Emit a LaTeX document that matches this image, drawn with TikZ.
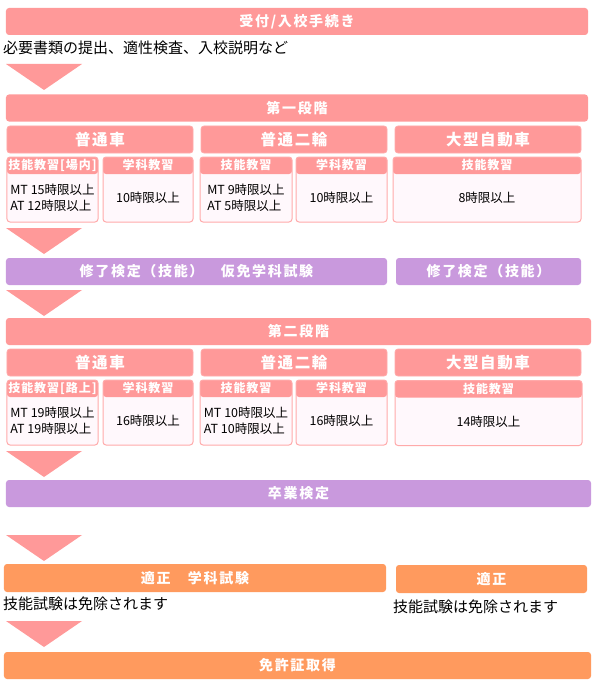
\documentclass[tikz,border=0pt]{standalone}
\usepackage{fontspec}
\setmainfont{Noto Sans CJK JP}

\definecolor{barpink}{HTML}{FF9999}
\definecolor{barpurple}{HTML}{C999DD}
\definecolor{barorange}{HTML}{FF9A5E}
\definecolor{boxline}{HTML}{FFAAAA}
\definecolor{boxfill}{HTML}{FFF8FC}

\begin{document}
\begin{tikzpicture}[x=1bp, y=-1bp,
    bar/.style={fill=barpink, rounded corners=3bp, minimum height=27bp,
                inner sep=0pt, text=white,
                font=\fontsize{14bp}{16bp}\selectfont\bfseries\addfontfeatures{LetterSpace=12}},
    purplebar/.style={bar, fill=barpurple},
    orangebar/.style={bar, fill=barorange, minimum height=28bp},
    kind/.style={bar, draw=boxline, line width=0.8bp,
                 font=\fontsize{15.5bp}{17bp}\selectfont\bfseries\addfontfeatures{LetterSpace=10}},
    lesson/.style={draw=boxline, fill=boxfill, line width=1bp,
                   rounded corners=3bp, minimum height=65bp, inner sep=0pt,
                   path picture={\fill[barpink] (path picture bounding box.north west)
                     rectangle ([yshift=-17bp]path picture bounding box.north east);}},
    lessonhead/.style={inner sep=0pt, text=white,
                       font=\fontsize{12bp}{14bp}\selectfont\bfseries\addfontfeatures{LetterSpace=8}},
    hours/.style={inner sep=0pt, align=left, font=\fontsize{12.5bp}{16bp}\selectfont},
    note/.style={inner sep=0pt, anchor=west, font=\fontsize{15bp}{17bp}\selectfont},
]
    \useasboundingbox (0,0) rectangle (597,682);

    \node[bar, minimum width=582bp] (intake) at (297,21.5) {受付/入校手続き};
    \node[note] (intakenote) at (3,48) {必要書類の提出、適性検査、入校説明など};

    \foreach \ty in {64,228,290,451,535,621}
        \fill[barpink] (6,\ty) -- (82,\ty) -- (44,\ty+26) -- cycle;

    \node[bar, minimum width=582bp] (stageone) at (297,108) {第一段階};
    \node[kind, minimum width=186bp] (carone) at (100,139.5) {普通車};
    \node[kind, minimum width=186bp] (bikeone) at (294,139.5) {普通二輪};
    \node[kind, minimum width=186bp] (largeone) at (488,139.5) {大型自動車};

    \node[lesson, minimum width=91bp] (carskillone) at (52.5,189.5) {};
    \node[lessonhead] at ([yshift=-8.5bp]carskillone.north) {技能教習[場内]};
    \node[hours] at ([yshift=-8.5bp]carskillone.center) {MT 15時限以上\\AT 12時限以上};
    \node[lesson, minimum width=90bp] (carstudyone) at (148,189.5) {};
    \node[lessonhead] at ([yshift=-8.5bp]carstudyone.north) {学科教習};
    \node[hours] at ([yshift=-8.5bp]carstudyone.center) {10時限以上};
    \node[lesson, minimum width=92bp] (bikeskillone) at (246,189.5) {};
    \node[lessonhead] at ([yshift=-8.5bp]bikeskillone.north) {技能教習};
    \node[hours] at ([yshift=-8.5bp]bikeskillone.center) {MT 9時限以上\\AT 5時限以上};
    \node[lesson, minimum width=91bp] (bikestudyone) at (341.5,189.5) {};
    \node[lessonhead] at ([yshift=-8.5bp]bikestudyone.north) {学科教習};
    \node[hours] at ([yshift=-8.5bp]bikestudyone.center) {10時限以上};
    \node[lesson, minimum width=188bp] (largeskillone) at (487,189.5) {};
    \node[lessonhead] at ([yshift=-8.5bp]largeskillone.north) {技能教習};
    \node[hours] at ([yshift=-8.5bp]largeskillone.center) {8時限以上};

    \node[purplebar, minimum width=381bp] (examone) at (196.5,271.5) {修了検定（技能）　仮免学科試験};
    \node[purplebar, minimum width=185bp] (examonelarge) at (488.5,271.5) {修了検定（技能）};

    \node[bar, minimum width=585bp] (stagetwo) at (298.5,331.5) {第二段階};
    \node[kind, minimum width=186bp] (cartwo) at (100,362.5) {普通車};
    \node[kind, minimum width=186bp] (biketwo) at (294,362.5) {普通二輪};
    \node[kind, minimum width=186bp] (largetwo) at (488,362.5) {大型自動車};

    \node[lesson, minimum width=91bp] (carskilltwo) at (52.5,412.5) {};
    \node[lessonhead] at ([yshift=-8.5bp]carskilltwo.north) {技能教習[路上]};
    \node[hours] at ([yshift=-8.5bp]carskilltwo.center) {MT 19時限以上\\AT 19時限以上};
    \node[lesson, minimum width=90bp] (carstudytwo) at (148,412.5) {};
    \node[lessonhead] at ([yshift=-8.5bp]carstudytwo.north) {学科教習};
    \node[hours] at ([yshift=-8.5bp]carstudytwo.center) {16時限以上};
    \node[lesson, minimum width=92bp] (bikeskilltwo) at (246,412.5) {};
    \node[lessonhead] at ([yshift=-8.5bp]bikeskilltwo.north) {技能教習};
    \node[hours] at ([yshift=-8.5bp]bikeskilltwo.center) {MT 10時限以上\\AT 10時限以上};
    \node[lesson, minimum width=91bp] (bikestudytwo) at (341.5,412.5) {};
    \node[lessonhead] at ([yshift=-8.5bp]bikestudytwo.north) {学科教習};
    \node[hours] at ([yshift=-8.5bp]bikestudytwo.center) {16時限以上};
    \node[lesson, minimum width=187bp] (largeskilltwo) at (488.5,413) {};
    \node[lessonhead] at ([yshift=-8.5bp]largeskilltwo.north) {技能教習};
    \node[hours] at ([yshift=-8.5bp]largeskilltwo.center) {14時限以上};

    \node[purplebar, minimum width=585bp] (graduation) at (298.5,493.5) {卒業検定};

    \node[orangebar, minimum width=382bp] (aptitude) at (195,578) {適正　学科試験};
    \node[note] (aptitudenote) at (3,604) {技能試験は免除されます};
    \node[orangebar, minimum width=191bp] (aptitudelarge) at (491.5,579) {適正};
    \node[note] (aptitudelargenote) at (393,607) {技能試験は免除されます};

    \node[orangebar, minimum width=587bp, minimum height=27bp] (license) at (297.5,665.5) {免許証取得};

\end{tikzpicture}
\end{document}
